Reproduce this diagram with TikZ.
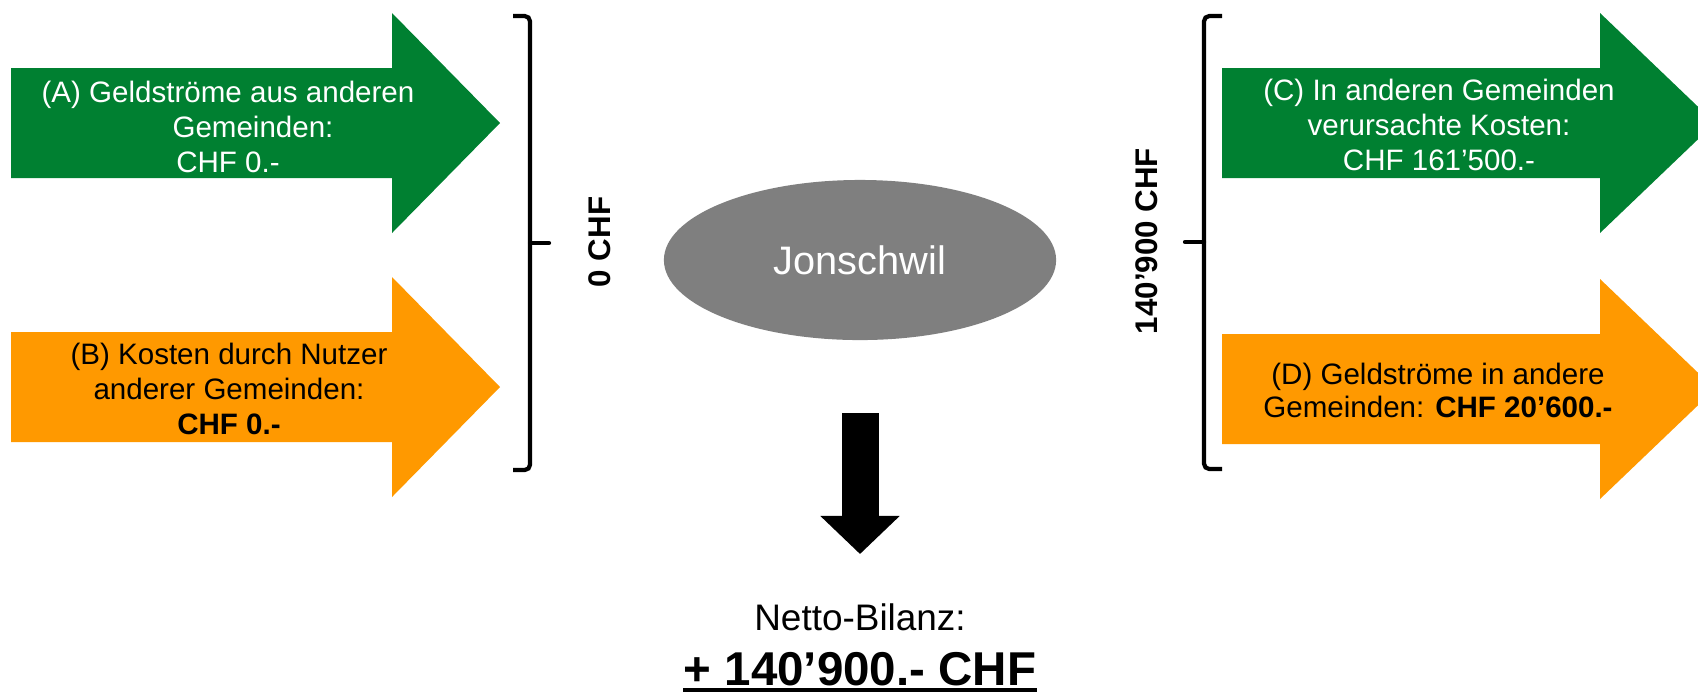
\documentclass[tikz,border=0pt]{standalone}
\usepackage{fontspec}
\setmainfont{Liberation Sans}
\usetikzlibrary{arrows.meta,shapes.geometric}
\definecolor{flowgreen}{RGB}{0,128,49}
\definecolor{floworange}{RGB}{255,153,0}
\definecolor{gemgray}{RGB}{127,127,127}
\tikzset{
  flowtext/.style={align=center, inner sep=0pt, font=\fontsize{8.4}{9.9}\selectfont},
  brk/.style={line width=1.2pt, rounded corners=1.5pt},
  sumlabel/.style={rotate=90, inner sep=0pt, font=\fontsize{8.9}{10}\selectfont\bfseries},
}
\begin{document}
\begin{tikzpicture}[x=0.01cm, y=-0.01cm]
\clip (0,0) rectangle (1698,693);
% flow arrows: left x, neck x, tip x, centre y, colour
\foreach \xa/\xb/\xt/\yc/\col in {11/392/500/123/flowgreen, 11/392/500/387/floworange, 1222/1600/1715/123/flowgreen, 1222/1600/1715/389/floworange} {
  \fill[\col] (\xa,\yc-55) -- (\xb,\yc-55) -- (\xb,\yc-110) -- (\xt,\yc)
    -- (\xb,\yc+110) -- (\xb,\yc+55) -- (\xa,\yc+55) -- cycle;
}
\node[flowtext, text=white] (geldA) at (228,127) {(A) Geldströme aus anderen\\\hspace*{0.5cm}Gemeinden:\\CHF 0.-};
\node[flowtext] (kostB) at (229,389) {(B) Kosten durch Nutzer\\anderer Gemeinden:\\\textbf{CHF 0.-}};
\node[flowtext, text=white] (kostC) at (1439,125) {(C) In anderen Gemeinden\\verursachte Kosten:\\CHF 161’500.-};
\node[flowtext, font=\fontsize{8.4}{9.4}\selectfont] (geldD) at (1438,390) {(D) Geldströme in andere\\Gemeinden: \textbf{CHF 20’600.-}};
% brackets and sums
\draw[brk] (513,16) -- (530,16) -- (530,470) -- (513,470);
\draw[brk, line cap=round] (530,243) -- (549,243);
\node[sumlabel] (sumL) at (600,242) {0 CHF};
\draw[brk] (1222,16) -- (1204,16) -- (1204,469) -- (1222,469);
\draw[brk, line cap=round] (1204,242) -- (1185,242);
\node[sumlabel] (sumR) at (1147,241) {140’900 CHF};
% community and net balance
\node[ellipse, fill=gemgray, minimum width=3.92cm, minimum height=1.6cm, text=white,
  font=\fontsize{11.3}{13}\selectfont] (gem) at (860,260) {Jonschwil};
\coordinate (pfeiltop) at (860,413);
\coordinate (pfeiltip) at (860,554);
\draw[line width=0.37cm, -{Triangle[length=0.38cm, width=0.77cm]}] (pfeiltop) -- (pfeiltip);
\node[anchor=base, inner sep=0pt, font=\fontsize{10.5}{12}\selectfont] (netto) at (860,630) {Netto-Bilanz:};
\node[anchor=base, inner sep=0pt, font=\fontsize{13.5}{16}\selectfont\bfseries] (bilanz) at (860,685) {+ 140’900.- CHF};
\draw[line width=1.2pt] ([yshift=-0.05cm]bilanz.base west) -- ([yshift=-0.05cm]bilanz.base east);
\end{tikzpicture}
\end{document}
